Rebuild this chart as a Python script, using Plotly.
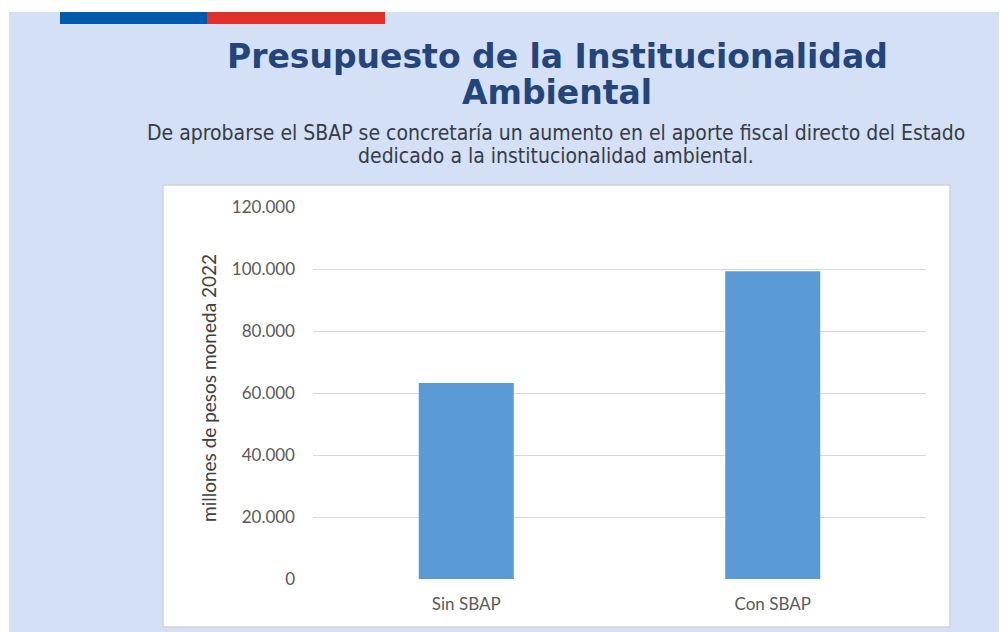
import plotly.graph_objects as go

categories = ["Sin SBAP", "Con SBAP"]
values = [63200, 99300]
tick_vals = [0, 20000, 40000, 60000, 80000, 100000, 120000]
tick_text = ["0", "20.000", "40.000", "60.000", "80.000", "100.000", "120.000"]

# page body has an 8px margin; figure coordinates are reference coordinates minus 8
OFF = 8
W, H = 1007 - OFF, 632 - OFF
L, R, T, B = 313 - OFF, 926 - OFF, 207 - OFF, 579 - OFF
pw, ph = R - L, B - T

def px(x):
    return (x - OFF - L) / pw

def py(y):
    return (B - (y - OFF)) / ph

fig = go.Figure(go.Bar(
    x=categories, y=values, marker_color="#5b9bd5",
    marker_line_width=0, width=0.31,
))

shapes = [
    dict(type="rect", xref="paper", yref="paper", x0=px(8), x1=px(1007), y0=py(12), y1=py(8),
         fillcolor="white", line_width=0, layer="below"),
    dict(type="rect", xref="paper", yref="paper", x0=px(8), x1=px(9), y0=py(632), y1=py(8),
         fillcolor="white", line_width=0, layer="below"),
    dict(type="rect", xref="paper", yref="paper", x0=px(60), x1=px(207), y0=py(24), y1=py(12),
         fillcolor="#005bac", line_width=0, layer="below"),
    dict(type="rect", xref="paper", yref="paper", x0=px(207), x1=px(385), y0=py(24), y1=py(12),
         fillcolor="#e0302c", line_width=0, layer="below"),
    dict(type="rect", xref="paper", yref="paper", x0=px(163), x1=px(950), y0=py(627), y1=py(185),
         fillcolor="white", line=dict(color="#cfd3da", width=1.5), layer="below"),
]

annotations = [
    dict(text="<b>Presupuesto de la Institucionalidad</b>", x=px(557), y=py(57),
         xref="paper", yref="paper", showarrow=False, xanchor="center", yanchor="middle",
         font=dict(family="DejaVu Sans", size=33, color="#23457a")),
    dict(text="<b>Ambiental</b>", x=px(557), y=py(92),
         xref="paper", yref="paper", showarrow=False, xanchor="center", yanchor="middle",
         font=dict(family="DejaVu Sans", size=33, color="#23457a")),
    dict(text="De aprobarse el SBAP se concretaría un aumento en el aporte fiscal directo del Estado",
         x=px(556), y=py(133), xref="paper", yref="paper", showarrow=False,
         xanchor="center", yanchor="middle",
         font=dict(family="DejaVu Sans Condensed", size=21, color="#363b46")),
    dict(text="dedicado a la institucionalidad ambiental.",
         x=px(556), y=py(156), xref="paper", yref="paper", showarrow=False,
         xanchor="center", yanchor="middle",
         font=dict(family="DejaVu Sans Condensed", size=21, color="#363b46")),
    dict(text="millones de pesos moneda 2022", x=px(208), y=py(388),
         xref="paper", yref="paper", showarrow=False, textangle=-90,
         xanchor="center", yanchor="middle",
         font=dict(family="Lato", size=19, color="#404040")),
]

fig.update_layout(
    width=W, height=H,
    margin=dict(l=L, r=W - R, t=T, b=H - B),
    paper_bgcolor="#d3e0f5", plot_bgcolor="white",
    showlegend=False, shapes=shapes, annotations=annotations,
)
fig.update_yaxes(range=[0, 120000], tickvals=tick_vals, ticktext=tick_text,
                 showgrid=True, gridcolor="#d9d9d9", gridwidth=1, zeroline=False,
                 showline=False, ticks="", ticklabelstandoff=17,
                 tickfont=dict(family="Lato", size=17, color="#595959"))
fig.update_xaxes(showgrid=False, showline=False, ticks="", ticklabelstandoff=13,
                 tickfont=dict(family="Lato", size=17, color="#595959"))

fig.write_html("out.html")
